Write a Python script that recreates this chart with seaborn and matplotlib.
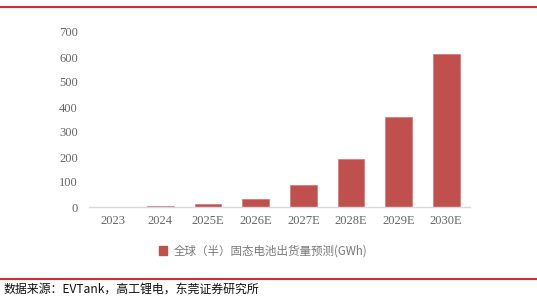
import matplotlib
matplotlib.use("Agg")
import matplotlib.pyplot as plt
import seaborn as sns
import pandas as pd
from matplotlib.lines import Line2D
from matplotlib.patches import Patch

years = ["2023", "2024", "2025E", "2026E", "2027E", "2028E", "2029E", "2030E"]
shipments = [0.9, 3.5, 10.5, 33, 87, 192, 361, 614]
series_label = "全球（半）固态电池出货量预测(GWh)"
yticks = [0, 100, 200, 300, 400, 500, 600, 700]
source_text = "数据来源：EVTank，高工锂电，东莞证券研究所"

sns.set_style("white")
plt.rcParams['font.family'] = ['Liberation Serif', 'Noto Sans CJK SC', 'DejaVu Sans']

df = pd.DataFrame({"year": years, "value": shipments})

fig = plt.figure(figsize=(5.37, 2.98), dpi=100)
ax = fig.add_axes([89/537, 1-207/298, (470-89)/537, (207-32)/298])
bar_color = "#C0504D"
sns.barplot(data=df, x="year", y="value", color=bar_color, width=0.56,
            saturation=1, ax=ax, edgecolor="#D07573", linewidth=0.5)

ax.set_xlim(-0.5, 7.5)
ax.set_ylim(0, 700)
ax.set_yticks(yticks)
ax.set_yticklabels([str(t) for t in yticks])
ax.set_xlabel("")
ax.set_ylabel("")
for s in ["top", "right", "left"]:
    ax.spines[s].set_visible(False)
ax.spines["bottom"].set_color("#D9D9D9")
ax.spines["bottom"].set_linewidth(1.0)
ax.tick_params(axis="both", length=0, labelsize=9, colors="#666666", pad=6)
ax.tick_params(axis="y", pad=8)

handle = Patch(facecolor=bar_color, edgecolor=bar_color)
fig.legend([handle], [series_label], loc="center", bbox_to_anchor=(0.49, 1-251/298),
           frameon=False, handlelength=0.7, handleheight=0.7,
           handletextpad=0.5, labelcolor="#7A7A7A",
           prop={'family': ['Noto Sans CJK SC', 'DejaVu Sans'], 'size': 8.3})

# decorative red rules
fig.add_artist(Line2D([0, 1], [1-7/298, 1-7/298], transform=fig.transFigure,
                      color="#D0312D", linewidth=1.5))
fig.add_artist(Line2D([0, 1], [1-279/298, 1-279/298], transform=fig.transFigure,
                      color="#D0312D", linewidth=1.5))

fig.text(3/537, 1-289/298, source_text, ha="left", va="center", fontsize=8.6,
         color="#111111", family=['Noto Sans CJK SC', 'DejaVu Sans'], weight="medium")

fig.savefig("out.png", dpi=100)
